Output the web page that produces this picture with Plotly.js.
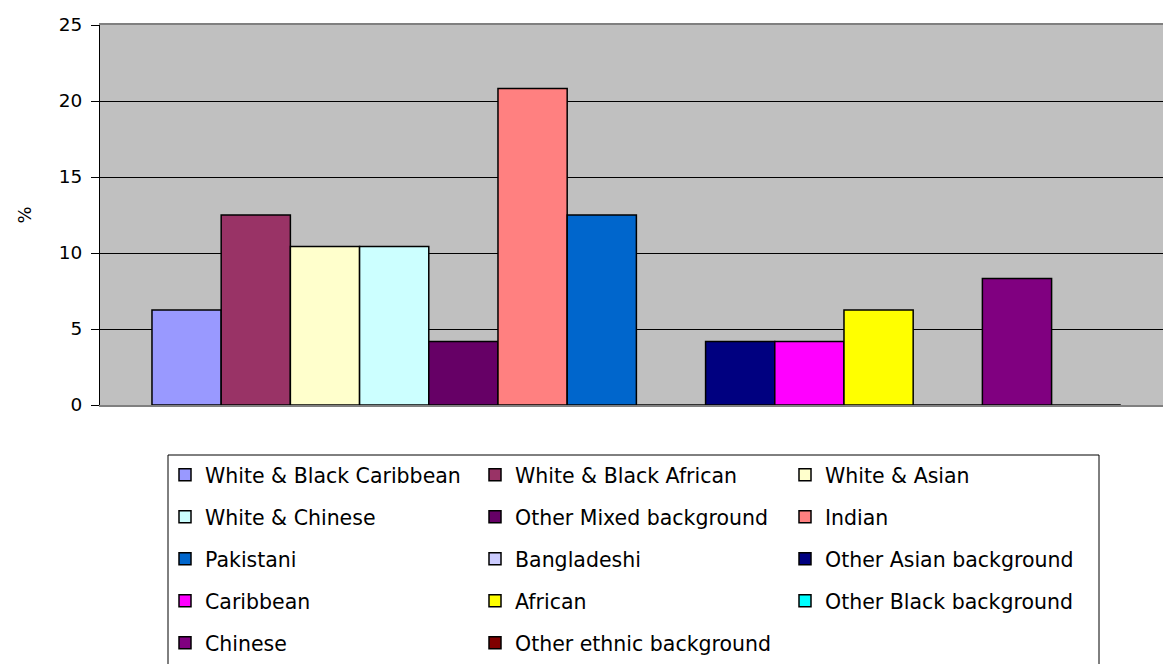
<!DOCTYPE html>
<html>
<head>
<meta charset="utf-8">
<script src="https://cdn.plot.ly/plotly-3.0.1.min.js"></script>
<style>
html,body{margin:0;padding:0;background:#fff;overflow:hidden;}
#chart{width:1163px;height:664px;}
</style>
</head>
<body>
<div id="chart"></div>
<script>
// ---- data ----
const category = ['Ethnic group'];
const seriesNames = [
  'White & Black Caribbean', 'White & Black African', 'White & Asian',
  'White & Chinese', 'Other Mixed background', 'Indian',
  'Pakistani', 'Bangladeshi', 'Other Asian background',
  'Caribbean', 'African', 'Other Black background',
  'Chinese', 'Other ethnic background'
];
const seriesValues = [6.25, 12.5, 10.42, 10.42, 4.17, 20.83, 12.5, 0, 4.17, 4.17, 6.25, 0, 8.33, 0];
const seriesColors = [
  '#9999FF', '#993366', '#FFFFCC',
  '#CCFFFF', '#660066', '#FF8080',
  '#0066CC', '#CCCCFF', '#000080',
  '#FF00FF', '#FFFF00', '#00FFFF',
  '#800080', '#800000'
];
const yTicks = [0, 5, 10, 15, 20, 25];

// ---- layout helpers ----
const W = 1163, H = 664;
const legendRowsPx = [475, 517, 559, 601, 643];
const legendLeftPx = 165;
const legendFont = {family: 'DejaVu Sans, sans-serif', size: 20.5, color: '#000'};

const traces = seriesNames.map((name, i) => {
  const row = Math.floor(i / 3);
  return {
    type: 'bar',
    name: name,
    x: category,
    y: [seriesValues[i]],
    marker: {color: seriesColors[i], line: {color: '#000', width: 1.5}},
    legend: row === 0 ? 'legend' : 'legend' + (row + 1),
    hoverinfo: 'name+y'
  };
});

const layout = {
  width: W, height: H,
  margin: {l: 100, r: 0, t: 25, b: 259, pad: 0},
  paper_bgcolor: '#fff',
  plot_bgcolor: '#C0C0C0',
  barmode: 'group',
  bargap: 0.0969,
  bargroupgap: 0,
  showlegend: true,
  font: {family: 'DejaVu Sans, sans-serif', size: 18, color: '#000'},
  xaxis: {
    type: 'category',
    range: [-0.5, 0.4909],
    showticklabels: false,
    ticks: '',
    showgrid: false,
    showline: true,
    mirror: true,
    linecolor: '#808080',
    linewidth: 2,
    zeroline: false,
    fixedrange: true
  },
  yaxis: {
    range: [0, 25],
    tickvals: yTicks,
    ticktext: yTicks.map(String),
    ticks: 'outside',
    ticklen: 8,
    tickwidth: 1,
    tickcolor: '#000',
    ticklabelstandoff: 5,
    tickfont: {family: 'DejaVu Sans, sans-serif', size: 18.5, color: '#000'},
    showgrid: true,
    gridcolor: '#000',
    gridwidth: 1,
    showline: true,
    linecolor: '#000',
    linewidth: 1,
    zeroline: false,
    title: {text: '%', font: {family: 'DejaVu Sans, sans-serif', size: 18, color: '#000'}, standoff: 22},
    fixedrange: true
  },
  shapes: [{
    type: 'rect', xref: 'paper', yref: 'paper',
    x0: (168 - 100) / 1063, x1: (1099 - 100) / 1063,
    y0: (405 - 455) / 380, y1: (405 - 720) / 380,
    line: {color: '#000', width: 1}, fillcolor: 'rgba(0,0,0,0)', layer: 'above'
  }]
};

legendRowsPx.forEach((py, r) => {
  const key = r === 0 ? 'legend' : 'legend' + (r + 1);
  layout[key] = {
    orientation: 'h',
    xref: 'container', yref: 'container',
    x: legendLeftPx / W, xanchor: 'left',
    y: 1 - py / H, yanchor: 'middle',
    entrywidth: 265, entrywidthmode: 'pixels',
    font: legendFont,
    bgcolor: 'rgba(0,0,0,0)',
    borderwidth: 0,
    traceorder: 'normal'
  };
});

Plotly.newPlot('chart', traces, layout, {displayModeBar: false, staticPlot: true});
</script>
</body>
</html>
